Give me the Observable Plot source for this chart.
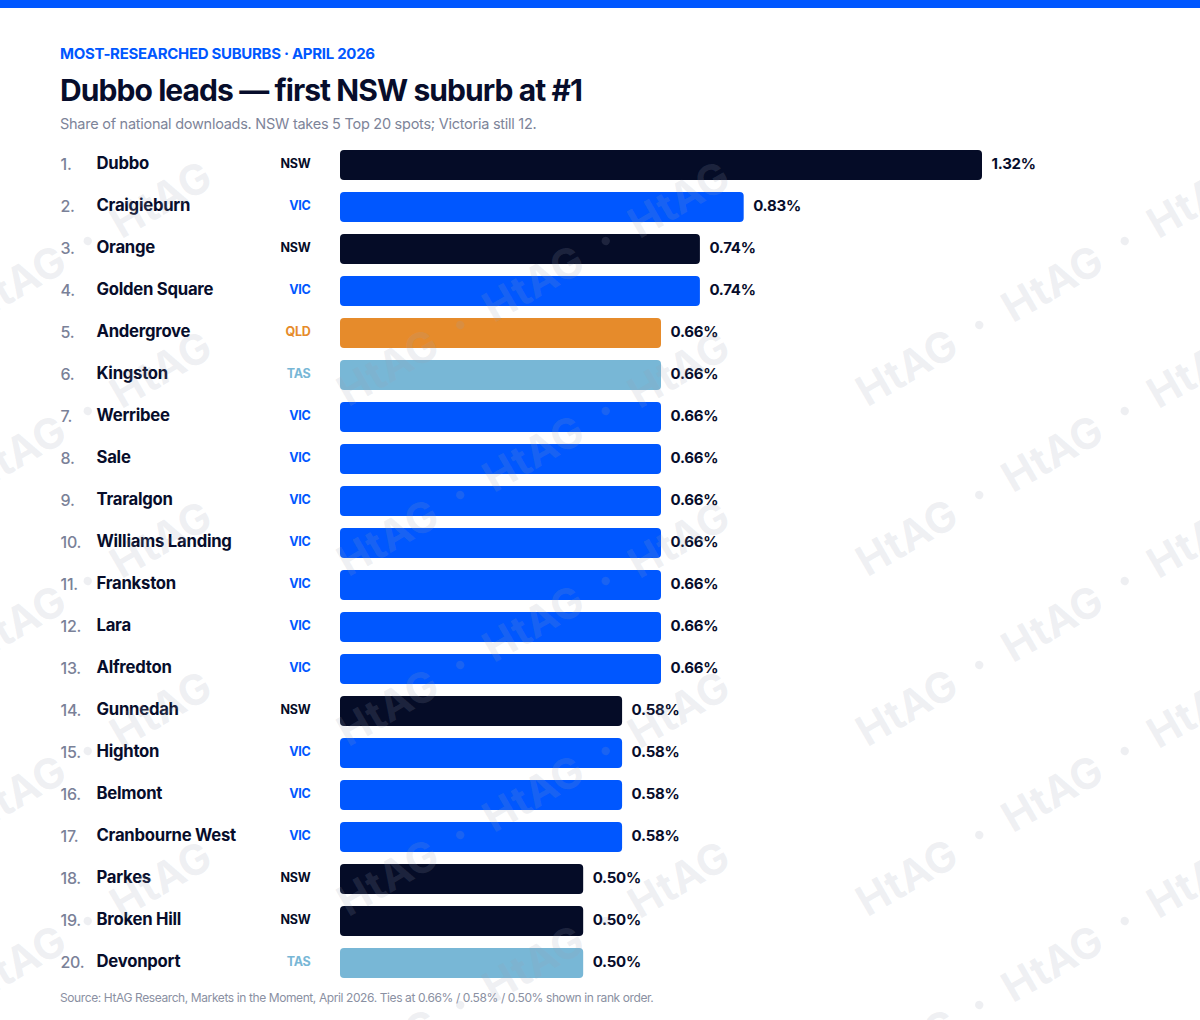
<!DOCTYPE html>
<html>
<head>
<meta charset="utf-8">
<script src="https://cdn.jsdelivr.net/npm/d3@7"></script>
<script src="https://cdn.jsdelivr.net/npm/@observablehq/plot@0.6"></script>
<style>
  body { margin: 0; background: #ffffff; font-family: Inter, "Noto Sans", sans-serif; }
  #page { position: relative; width: 1200px; height: 1020px; overflow: hidden; background: #fff; }
  .stripe { position: absolute; left: 0; top: 0; width: 1200px; height: 8px; background: #0057ff; }
  .txt { position: absolute; left: 60px; white-space: nowrap; }
  .eyebrow { top: 46px; font-size: 15px; line-height: 15px; font-weight: 700; color: #0057ff; letter-spacing: -0.3px; }
  .title { top: 75px; font-size: 30px; line-height: 30px; font-weight: 700; color: #070d2b; letter-spacing: -0.92px; }
  .subtitle { top: 117px; font-size: 14.5px; line-height: 14.5px; font-weight: 400; color: #7d8499; letter-spacing: -0.26px; }
  .source { top: 992px; font-size: 12px; line-height: 12px; font-weight: 400; color: #8a90a2; letter-spacing: -0.4px; }
  #chart { position: absolute; left: 0; top: 140px; }
  #watermark { position: absolute; left: 0; top: 0; pointer-events: none; }
</style>
</head>
<body>
<div id="page">
  <div class="stripe"></div>
  <div class="txt eyebrow">MOST-RESEARCHED SUBURBS · APRIL 2026</div>
  <div class="txt title">Dubbo leads — first NSW suburb at #1</div>
  <div class="txt subtitle">Share of national downloads. NSW takes 5 Top 20 spots; Victoria still 12.</div>
  <div id="chart"></div>
  <div class="txt source">Source: HtAG Research, Markets in the Moment, April 2026. Ties at 0.66% / 0.58% / 0.50% shown in rank order.</div>
</div>
<script>
// Top 20 most-researched suburbs, April 2026 (share of national downloads, %)
const ranks = [1, 2, 3, 4, 5, 6, 7, 8, 9, 10, 11, 12, 13, 14, 15, 16, 17, 18, 19, 20];
const suburbs = ["Dubbo", "Craigieburn", "Orange", "Golden Square", "Andergrove", "Kingston",
  "Werribee", "Sale", "Traralgon", "Williams Landing", "Frankston", "Lara", "Alfredton",
  "Gunnedah", "Highton", "Belmont", "Cranbourne West", "Parkes", "Broken Hill", "Devonport"];
const states = ["NSW", "VIC", "NSW", "VIC", "QLD", "TAS", "VIC", "VIC", "VIC", "VIC", "VIC",
  "VIC", "VIC", "NSW", "VIC", "VIC", "VIC", "NSW", "NSW", "TAS"];
const shares = [1.32, 0.83, 0.74, 0.74, 0.66, 0.66, 0.66, 0.66, 0.66, 0.66, 0.66, 0.66, 0.66,
  0.58, 0.58, 0.58, 0.58, 0.50, 0.50, 0.50];

// State palette
const stateKeys = ["NSW", "VIC", "QLD", "TAS"];
const stateColors = ["#050c27", "#0057ff", "#e68b2b", "#78b7d6"];

const rows = suburbs.map((suburb, i) => ({
  rank: ranks[i], suburb, state: states[i], share: shares[i]
}));

const ink = "#070d2b";
const rowH = 42;

const chart = Plot.plot({
  width: 1200,
  height: 850,
  margin: 0,
  style: { fontFamily: "Inter, 'Noto Sans', sans-serif", background: "transparent", overflow: "visible" },
  x: { domain: [0, 1.32], range: [340, 982], axis: null },
  y: { domain: suburbs, range: [4, 4 + rowH * suburbs.length], paddingInner: 12 / rowH, paddingOuter: 6 / rowH, axis: null },
  color: { domain: stateKeys, range: stateColors },
  marks: [
    Plot.barX(rows, { x: "share", y: "suburb", fill: "state", rx: 4 }),
    // value labels at the end of each bar
    Plot.text(rows, {
      x: "share", y: "suburb", text: d => d.share.toFixed(2) + "%",
      dx: 9, dy: -1.5, textAnchor: "start", fontSize: 15, fontWeight: 700, fill: ink
    }),
    // rank
    Plot.text(rows, {
      frameAnchor: "left", y: "suburb", text: d => d.rank + ".",
      dx: 60, dy: -1, textAnchor: "start", fontSize: 16, fontWeight: 500, fill: "#7a8198"
    }),
    // suburb name
    Plot.text(rows, {
      frameAnchor: "left", y: "suburb", text: "suburb",
      dx: 96, dy: -1.5, textAnchor: "start", fontSize: 16.7, fontWeight: 700, fill: ink
    }),
    // state code, coloured by state
    Plot.text(rows, {
      frameAnchor: "left", y: "suburb", text: "state",
      dx: 310, dy: -1.5, textAnchor: "end", fontSize: 12.5, fontWeight: 700, fill: "state"
    })
  ]
});
chart.querySelectorAll("text").forEach(t => t.style.letterSpacing = "-0.25px");
document.getElementById("chart").appendChild(chart);

// Diagonal "HtAG" watermark laid over the page
const wmX = [15, 533, 1052];
const wmY = [283, 453, 623, 793, 963];
const wm = d3.select("#page").append("svg")
  .attr("id", "watermark")
  .attr("width", 1200).attr("height", 1020);
const runs = wm.selectAll("g")
  .data(d3.cross(wmX, wmY))
  .join("g")
  .attr("transform", ([x, y]) => `translate(${x},${y}) rotate(-30)`)
  .attr("fill", "#9ba3b4")
  .attr("fill-opacity", 0.17)
  .attr("font-family", "Inter, 'Noto Sans', sans-serif")
  .attr("font-weight", 700);
runs.selectAll("text.word")
  .data([-168, 0, 168])
  .join("text")
  .attr("class", "word")
  .attr("x", d => d)
  .attr("text-anchor", "middle")
  .attr("dominant-baseline", "central")
  .attr("font-size", 42)
  .text("HtAG");
runs.selectAll("circle")
  .data([-84, 84])
  .join("circle")
  .attr("cx", d => d)
  .attr("cy", 0)
  .attr("r", 4.2);
</script>
</body>
</html>
